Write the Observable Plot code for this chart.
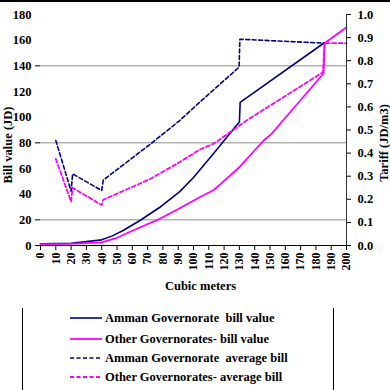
<!DOCTYPE html>
<html>
<head>
<meta charset="utf-8">
<script src="https://cdn.jsdelivr.net/npm/d3@7"></script>
<script src="https://cdn.jsdelivr.net/npm/@observablehq/plot@0.6"></script>
<style>
  html, body { margin: 0; padding: 0; background: #fff; }
  body { width: 390px; height: 390px; overflow: hidden; position: relative; font-family: "Liberation Serif", "Times New Roman", Times, serif; }
  #topline { position: absolute; left: 0; top: 0; width: 390px; height: 2px; background: #000; }
  #legend { position: absolute; left: 0; top: 300px; width: 390px; height: 90px; }
  .vline { position: absolute; top: 8px; width: 1px; height: 82px; background: #000; }
  .item { position: absolute; left: 70px; height: 16px; display: flex; align-items: center; font-family: "Liberation Serif", "Times New Roman", Times, serif; font-weight: bold; font-size: 12.5px; white-space: pre; color: #000; }
  .item svg { margin-right: 3px; }
  svg text { font-family: "Liberation Serif", "Times New Roman", Times, serif; }
</style>
</head>
<body>
<div id="chart"></div>
<div id="topline"></div>
<div id="legend"></div>
<script>
// ---- data ----
// Bill value (JD), left axis
const ammanBillX = [0, 20, 40, 47, 54, 65, 78, 91, 100, 113, 128, 130, 130.5, 185.5];
const ammanBillY = [1.3, 1.8, 4.4, 7.5, 11.7, 19.5, 29.8, 42, 53, 71.5, 93.5, 96, 111.5, 158];
const otherBillX = [0, 20, 40, 50, 60, 78, 91, 104, 113, 130, 146, 151, 158.5, 185, 185.7, 200];
const otherBillY = [1, 1.2, 2.5, 6, 11.5, 20.8, 29, 37.6, 43, 61, 82, 87, 97.4, 134, 157.6, 170];
// Average bill (JD/m3), right axis
const ammanAvgX = [10, 20, 21, 40, 41, 72, 91, 104, 129.8, 130.3, 185.5];
const ammanAvgY = [0.455, 0.235, 0.31, 0.238, 0.283, 0.44, 0.541, 0.62, 0.772, 0.893, 0.876];
const otherAvgX = [10, 20, 21, 40, 41, 72, 91, 104, 113, 134.6, 184.6, 185.7, 200];
const otherAvgY = [0.375, 0.19, 0.25, 0.175, 0.198, 0.289, 0.361, 0.415, 0.44, 0.541, 0.75, 0.876, 0.876];

// ---- ticks / labels ----
const xTicks = d3.range(0, 201, 10);
const leftTicks = [0, 20, 40, 60, 80, 100, 120, 140, 160, 180];
const leftTickMarks = [0, 20, 80, 140];
const gridLines = [20, 80, 140];
const rightTicks = [0, 0.1, 0.2, 0.3, 0.4, 0.5, 0.6, 0.7, 0.8, 0.9, 1.0];
const leftMax = 180, rightMax = 1.0;
const ratio = leftMax / rightMax;

const xTitle = "Cubic meters";
const yLeftTitle = "Bill value (JD)";
const yRightTitle = "Tariff (JD/m3)";
const seriesNames = [
  "Amman Governorate  bill value",
  "Other Governorates- bill value",
  "Amman Governorate  average bill",
  "Other Governorates- average bill"
];
const navy = "#000080", magenta = "#ff00ff";
const seriesStyles = [
  {color: navy, dash: null, width: 1.6},
  {color: magenta, dash: null, width: 1.8},
  {color: navy, dash: "4,2.5", width: 1.6},
  {color: magenta, dash: "4,2.5", width: 1.8}
];

const zip = (xs, ys) => xs.map((x, i) => ({x, y: ys[i]}));
const ammanBill = zip(ammanBillX, ammanBillY);
const otherBill = zip(otherBillX, otherBillY);
const ammanAvg = zip(ammanAvgX, ammanAvgY);
const otherAvg = zip(otherAvgX, otherAvgY);

const serif = "'Liberation Serif', 'Times New Roman', Times, serif";

const chart = Plot.plot({
  width: 390,
  height: 300,
  marginLeft: 40,
  marginRight: 44,
  marginTop: 14,
  marginBottom: 55,
  x: {domain: [0, 200]},
  y: {domain: [0, leftMax]},
  style: {fontFamily: serif, fontWeight: "bold", fontSize: "12.5px", color: "#000", background: "transparent", overflow: "visible"},
  marks: [
    Plot.ruleY(gridLines, {stroke: "#8c8c8c", strokeWidth: 1}),
    Plot.line(ammanBill, {x: "x", y: "y", stroke: seriesStyles[0].color, strokeWidth: seriesStyles[0].width}),
    Plot.line(ammanAvg, {x: "x", y: d => d.y * ratio, stroke: seriesStyles[2].color, strokeWidth: seriesStyles[2].width, strokeDasharray: seriesStyles[2].dash}),
    Plot.line(otherBill, {x: "x", y: "y", stroke: seriesStyles[1].color, strokeWidth: seriesStyles[1].width}),
    Plot.line(otherAvg, {x: "x", y: d => d.y * ratio, stroke: seriesStyles[3].color, strokeWidth: seriesStyles[3].width, strokeDasharray: seriesStyles[3].dash}),
    Plot.ruleY([0], {stroke: "#000", strokeWidth: 1.2}),
    Plot.ruleX([200], {stroke: "#333", strokeWidth: 1}),
    Plot.axisX({ticks: xTicks, tickRotate: -90, tickSize: 5, tickPadding: 2, label: null, fontSize: 12}),
    Plot.axisY({ticks: leftTicks, tickSize: 0, tickPadding: 9, label: null}),
    Plot.axisY({ticks: leftTickMarks, tickSize: 5, text: null, label: null}),
    Plot.axisY({anchor: "right", ticks: rightTicks.map(v => v * ratio), tickFormat: v => (v / ratio).toFixed(1), tickSize: 4, tickPadding: 7, label: null}),
    Plot.text([xTitle], {frameAnchor: "bottom", lineAnchor: "middle", textAnchor: "middle", dx: 7, dy: 40, fontWeight: "bold", fontSize: 12.5}),
    Plot.text([yLeftTitle], {frameAnchor: "left", lineAnchor: "middle", textAnchor: "middle", rotate: -90, dx: -33, dy: 15, fontWeight: "bold", fontSize: 12.5}),
    Plot.text([yRightTitle], {frameAnchor: "right", lineAnchor: "middle", textAnchor: "middle", rotate: -90, dx: 37, dy: 13, fontWeight: "bold", fontSize: 12.5})
  ]
});
document.getElementById("chart").appendChild(chart);

// ---- legend ----
const legend = document.getElementById("legend");
[22, 333].forEach(x => {
  const v = document.createElement("div");
  v.className = "vline";
  v.style.left = x + "px";
  legend.appendChild(v);
});
const itemTops = [10, 31, 50, 69];
seriesNames.forEach((name, i) => {
  const s = seriesStyles[i];
  const it = document.createElement("div");
  it.className = "item";
  it.style.top = itemTops[i] + "px";
  it.innerHTML = `<svg width="32" height="6"><line x1="0" y1="3" x2="32" y2="3" stroke="${s.color}" stroke-width="${s.width}" ${s.dash ? `stroke-dasharray="${s.dash}"` : ""}/></svg>` ;
  const t = document.createElement("span");
  t.textContent = name;
  it.appendChild(t);
  legend.appendChild(it);
});
</script>
</body>
</html>
